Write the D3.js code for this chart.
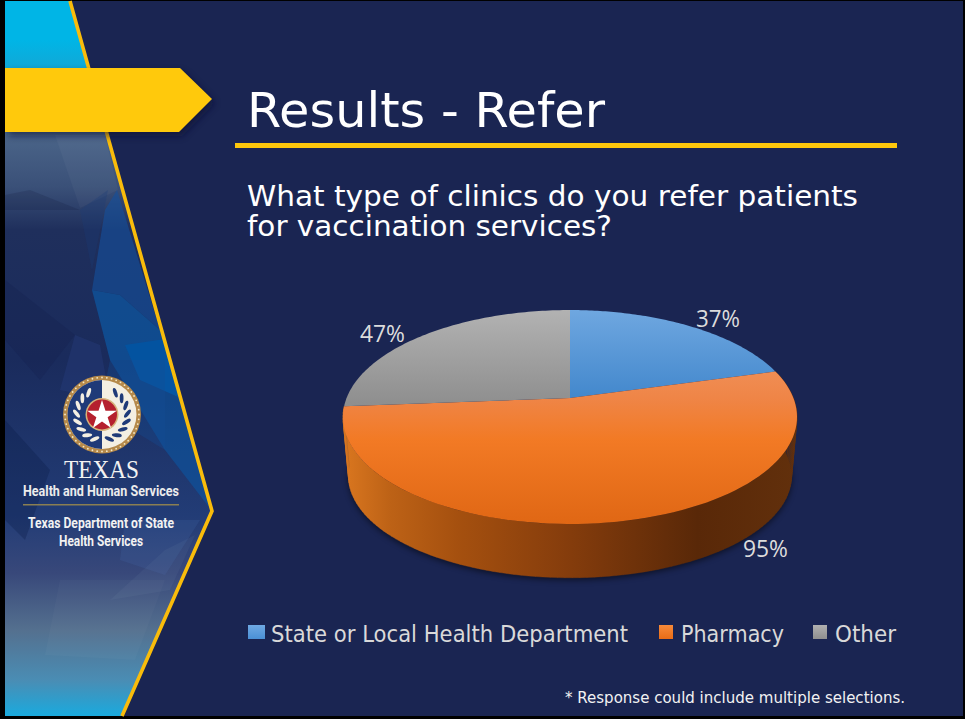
<!DOCTYPE html>
<html><head><meta charset="utf-8">
<script src="https://cdn.jsdelivr.net/npm/d3@7"></script>
<style>html,body{margin:0;padding:0;background:#000;overflow:hidden}svg{display:block}</style>
</head><body><svg id="c" width="965" height="719"></svg>
<script>
const categories = ["State or Local Health Department", "Pharmacy", "Other"];
const values = [37, 95, 47];
const valueLabels = ["37%", "95%", "47%"];
const titleText = "Results - Refer";
const questionLines = ["What type of clinics do you refer patients", "for vaccination services?"];
const footnote = "* Response could include multiple selections.";

const svg = d3.select("#c");
const defs = svg.append("defs");
function grad(id, stops, x1, y1, x2, y2) {
  const g = defs.append("linearGradient").attr("id", id).attr("gradientUnits", "userSpaceOnUse")
    .attr("x1", x1).attr("y1", y1).attr("x2", x2).attr("y2", y2);
  stops.forEach(s => g.append("stop").attr("offset", s[0]).attr("stop-color", s[1]));
}
grad("panel", [[0,"#00b5e6"],[.055,"#00b5e6"],[.1,"#14a6d4"],[.19,"#4a6488"],[.26,"#3a5078"],[.32,"#1f2f5c"],[.5,"#1a2b5c"],[.72,"#223c76"],[.8,"#38487a"],[.88,"#54708f"],[.95,"#4a8db4"],[1,"#1aaade"]],0,1,0,716);
grad("gBlue", [[0,"#6fa7e0"],[1,"#4287cc"]],0,310,0,400);
grad("gOrange", [[0,"#f08e55"],[.18,"#ef8547"],[.45,"#f27a25"],[1,"#e06714"]],0,370,0,524);
grad("gGray", [[0,"#b2b2b2"],[1,"#8e8e8e"]],0,310,0,405);
grad("gWall", [[0,"#d9761f"],[.1,"#bd6216"],[.25,"#a5500f"],[.5,"#843c0c"],[.78,"#592808"],[1,"#62300c"]],345,0,797,0);
grad("sBlue", [[0,"#6fa9e3"],[1,"#4a90d6"]],0,625,0,639);
grad("sOrange", [[0,"#f78a3a"],[1,"#e96c16"]],0,625,0,639);
grad("sGray", [[0,"#b0b0b0"],[1,"#8f8f8f"]],0,625,0,639);
const blur = defs.append("filter").attr("id","blur").attr("x","-20%").attr("y","-20%").attr("width","140%").attr("height","140%");
blur.append("feGaussianBlur").attr("stdDeviation",3);
const blur2 = defs.append("filter").attr("id","blur2").attr("x","-20%").attr("y","-40%").attr("width","140%").attr("height","180%");
blur2.append("feGaussianBlur").attr("stdDeviation",3.5);

// slide
svg.append("rect").attr("x",5).attr("y",1).attr("width",958).attr("height",715).attr("fill","#1a2552");

// left panel
const panelPts = [[5,1],[70,1],[212,511],[122,716],[5,716]];
defs.append("clipPath").attr("id","pc").append("polygon").attr("points",panelPts.join(" "));
svg.append("polygon").attr("points",panelPts.join(" ")).attr("fill","url(#panel)");
const polys = [
 [[[105,210],[117,190],[160,330],[120,295],[92,290]],"#14509c",.6],
 [[[92,290],[120,295],[160,330],[170,360],[110,360]],"#0d569f",.75],
 [[[125,345],[172,338],[185,400],[140,380]],"#0254a2",.9],
 [[[110,360],[190,360],[212,511],[165,450]],"#0a5aa8",.55],
 [[[110,360],[165,360],[165,450],[100,410]],"#154c94",.35],
 [[[55,135],[105,135],[118,190],[80,208]],"#ffffff",.035],
 [[[5,210],[80,210],[30,190],[5,195]],"#0a1030",.16],
 [[[80,210],[108,190],[92,270]],"#1b3a78",.3],
 [[[5,280],[75,335],[40,380],[5,340]],"#101c48",.22],
 [[[75,335],[100,345],[110,400],[60,390]],"#2a4388",.3],
 [[[5,420],[50,470],[25,540],[5,520]],"#0b1a44",.3],
 [[[125,520],[200,520],[165,575],[120,560]],"#4a78b8",.16],
 [[[165,550],[195,535],[170,590],[110,600]],"#8aa0bd",.08],
 [[[60,580],[165,580],[135,660],[45,655]],"#ffffff",.022]
];
svg.append("g").attr("clip-path","url(#pc)").selectAll("polygon").data(polys).join("polygon")
  .attr("points",d=>d[0].join(" ")).attr("fill",d=>d[1]).attr("opacity",d=>d[2]);
svg.append("polyline").attr("points",panelPts.slice(1,4).join(" ")).attr("fill","none").attr("stroke","#f9bc0b").attr("stroke-width",3.6);

// arrow
const arrow = [[5,68],[180,68],[212,99],[179,132],[5,132]];
svg.append("polygon").attr("points",arrow.map(p=>[p[0]+3,p[1]+4]).join(" ")).attr("fill","#0a1030").attr("opacity",.6).attr("filter","url(#blur2)");
svg.append("polygon").attr("points",arrow.join(" ")).attr("fill","#ffc90c");

// seal
const seal = svg.append("g").attr("transform","translate(102,414.5)");
seal.append("circle").attr("r",39).attr("fill","#b5894a");
seal.append("circle").attr("r",34.5).attr("fill","#f4efe2");
seal.append("path").attr("d",d3.arc()({innerRadius:0,outerRadius:34.5,startAngle:Math.PI,endAngle:2*Math.PI})).attr("fill","#1f3a78");
seal.selectAll("circle.dot").data(d3.range(48)).join("circle").attr("class","dot")
  .attr("r",.9).attr("fill","#f4e9c8").attr("cx",i=>37*Math.cos(i/48*2*Math.PI)).attr("cy",i=>37*Math.sin(i/48*2*Math.PI));
[-1,1].forEach(side=>{
  d3.range(8).forEach(i=>{
    const t=(i/7)*2.3+.55, r=25.5;
    seal.append("ellipse").attr("rx",5).attr("ry",1.9)
      .attr("fill",side<0?"#f4efe2":"#1f3a78")
      .attr("transform",`translate(${side*r*Math.sin(t)},${-r*Math.cos(t)}) rotate(${side*(t*57.3+40)})`);
  });
});
seal.append("circle").attr("r",16.5).attr("fill","#d6b27a");
seal.append("circle").attr("r",15).attr("fill","#b5202e");
seal.append("path").attr("d",d3.symbol(d3.symbolStar,270)()).attr("fill","#fff").attr("transform","translate(0,1)");

function txt(s,x,y,size,len,opts={}) {
  const t=svg.append("text").attr("x",x).attr("y",y).attr("font-size",size)
    .attr("font-family",opts.font||"'DejaVu Sans'").attr("fill",opts.fill||"#fff")
    .attr("font-weight",opts.weight||"normal").text(s);
  if(len) t.attr("textLength",len).attr("lengthAdjust",opts.adj||"spacingAndGlyphs");
  return t;
}
const narrow="'Roboto'";
txt("TEXAS",64,478,25,75,{font:"'Liberation Serif'",fill:"#f2f2f2"});
txt("Health and Human Services",23,496,15,156,{font:narrow,weight:"bold",fill:"#ececec"});
svg.append("rect").attr("x",23).attr("y",504).attr("width",156).attr("height",1.5).attr("fill","#8a7f52");
txt("Texas Department of State",28,528,14.5,146,{font:narrow,weight:"bold",fill:"#f2f2f2"});
txt("Health Services",59,546,14.5,84,{font:narrow,weight:"bold",fill:"#f2f2f2"});

// headings
txt(titleText,247,127,48,358);
svg.append("rect").attr("x",235).attr("y",143).attr("width",662).attr("height",5).attr("fill","#fdc70c");
questionLines.forEach((l,i)=>txt(l,247,[206,236][i],29,[611,365][i]));

// pie: projected 3D disc
const cx=570, cy=398, a=223.4, b=103.6, k=.1776;
const cy2=458, a2=218, b2=98.5;
const project=(ang,A,B,CY)=>{const u=Math.sin(ang),v=Math.cos(ang),d=1+k*v;return [cx+A*u/d,CY-B*v/d];};
const arcs=d3.pie().sort(null).value(d=>d)(values);
const fills=["url(#gBlue)","url(#gOrange)","url(#gGray)"];
const line=d3.line();
const samples=(s,e,n)=>d3.range(n+1).map(i=>s+(e-s)*i/n);

// shadow
const shadowPts=samples(arcs[1].startAngle,arcs[1].endAngle,90).map(t=>project(t,a2,b2,cy2+2));
svg.append("path").attr("d",line(shadowPts)+"Z").attr("fill","#000").attr("opacity",.55).attr("filter","url(#blur)");

// wall of the front slice
const o=arcs[1];
const ws=samples(o.startAngle,o.endAngle,120);
let wall="";
ws.slice(1).forEach((t,i)=>{
  const t0=ws[i];
  wall+=line([project(t0,a,b,cy),project(t,a,b,cy),project(t,a2,b2,cy2),project(t0,a2,b2,cy2)])+"Z";
});
svg.append("path").attr("d",wall).attr("fill","url(#gWall)").attr("stroke","url(#gWall)").attr("stroke-width",.4);

// top faces
svg.selectAll("path.slice").data(arcs).join("path").attr("class","slice")
 .attr("d",d=>{
   const pts=samples(d.startAngle,d.endAngle,90).map(t=>project(t,a,b,cy));
   return line([[cx,cy],...pts])+"Z";
 }).attr("fill",(d,i)=>fills[i]);

// data labels
const labelFont="'Open Sans'";
const labelPos=[[696,327,44],[743,557,45],[360,342,45]];
valueLabels.forEach((l,i)=>txt(l,labelPos[i][0],labelPos[i][1],23,labelPos[i][2],{font:labelFont,fill:"#dcdcdc"}));

// legend
const legendLayout=[[248,271,357,17,"sBlue"],[659,681,103,14,"sOrange"],[813,835,61,14,"sGray"]];
categories.forEach((c,i)=>{
  const L=legendLayout[i];
  svg.append("rect").attr("x",L[0]).attr("y",625).attr("width",L[3]).attr("height",14).attr("fill",`url(#${L[4]})`);
  txt(c,L[1],642,23,L[2],{fill:"#d9d9d9"});
});
txt(footnote,565,703,15,340,{fill:"#f2f2f2"});
</script></body></html>
